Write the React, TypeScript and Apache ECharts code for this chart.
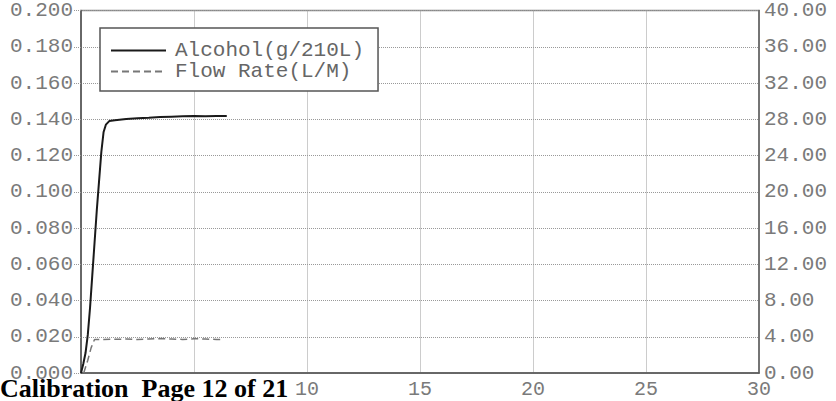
import React, { useEffect, useRef } from "react";
import * as echarts from "echarts";

const alcoholX = [0, 0.1, 0.2, 0.3, 0.4, 0.5, 0.6, 0.7, 0.8, 0.9, 1.0, 1.1, 1.25, 1.5, 2.0, 2.5, 3.0, 3.5, 4.0, 4.5, 5.0, 5.5, 6.0, 6.45];
const alcoholY = [0, 0.005, 0.011, 0.021, 0.036, 0.054, 0.072, 0.09, 0.106, 0.122, 0.133, 0.137, 0.139, 0.1395, 0.1402, 0.1405, 0.1408, 0.1412, 0.1414, 0.1416, 0.1418, 0.1416, 0.1418, 0.1418];
const flowX = [0.12, 0.3, 0.45, 0.6, 1.0, 1.5, 2.0, 2.5, 3.0, 3.5, 4.0, 4.5, 5.0, 5.5, 6.0, 6.2];
const flowY = [0, 1.4, 2.8, 3.7, 3.7, 3.72, 3.75, 3.7, 3.75, 3.8, 3.75, 3.7, 3.78, 3.75, 3.7, 3.7];
const seriesNames = ["Alcohol(g/210L)", "Flow Rate(L/M)"];
const footerText = "Calibration  Page 12 of 21";
const hiddenXLabels = [0, 5];

const mono = "Liberation Mono";

export default function App() {
  const ref = useRef<HTMLDivElement>(null);
  useEffect(() => {
    if (!ref.current) return;
    const chart = echarts.init(ref.current, null, { renderer: "svg" });
    chart.setOption({
      animation: false,
      backgroundColor: "#ffffff",
      grid: {
        left: 81,
        right: 77,
        top: 9,
        bottom: 28,
        show: true,
        borderColor: "#888",
        borderWidth: 1.5,
      },
      legend: {
        orient: "vertical",
        left: 100,
        top: 28,
        padding: [12, 14, 9, 10],
        itemGap: 0,
        itemWidth: 55,
        itemHeight: 20,
        backgroundColor: "#fff",
        borderColor: "#555",
        borderWidth: 1.5,
        borderRadius: 0,
        itemStyle: { opacity: 0 },
        textStyle: {
          fontFamily: mono,
          fontSize: 21,
          color: "#666",
          padding: [0, 0, 0, 4],
        },
        data: seriesNames,
      },
      xAxis: {
        type: "value",
        min: 0,
        max: 30,
        interval: 5,
        axisLine: { show: true, lineStyle: { color: "#555", width: 1.5 } },
        axisTick: { show: false },
        splitLine: { show: true, lineStyle: { color: "#999", type: "dotted", width: 1 } },
        axisLabel: {
          fontFamily: mono,
          fontSize: 20,
          color: "#7a7a7a",
          margin: 6,
          formatter: (v: number) => (hiddenXLabels.includes(v) ? "" : String(v)),
        },
      },
      yAxis: [
        {
          type: "value",
          min: 0,
          max: 0.2,
          interval: 0.02,
          position: "left",
          axisLine: { show: true, lineStyle: { color: "#555", width: 1.5 } },
          axisTick: { show: true, length: 7, lineStyle: { color: "#999", type: "dotted" } },
          splitLine: { show: true, lineStyle: { color: "#999", type: "dotted", width: 1 } },
          axisLabel: {
            fontFamily: mono,
            fontSize: 21,
            color: "#7a7a7a",
            margin: 8,
            formatter: (v: number) => v.toFixed(3),
          },
        },
        {
          type: "value",
          min: 0,
          max: 40,
          interval: 4,
          position: "right",
          axisLine: { show: true, lineStyle: { color: "#666", width: 1.5 } },
          axisTick: { show: false },
          splitLine: { show: false },
          axisLabel: {
            fontFamily: mono,
            fontSize: 21,
            color: "#7a7a7a",
            margin: 5,
            formatter: (v: number) => v.toFixed(2),
          },
        },
      ],
      series: [
        {
          name: seriesNames[0],
          type: "line",
          yAxisIndex: 0,
          symbol: "none",
          smooth: false,
          lineStyle: { color: "#1a1a1a", width: 2 },
          itemStyle: { color: "#1a1a1a" },
          data: alcoholX.map((x, i) => [x, alcoholY[i]]),
        },
        {
          name: seriesNames[1],
          type: "line",
          yAxisIndex: 1,
          symbol: "none",
          lineStyle: { color: "#777", width: 1.5, type: [7, 4] },
          itemStyle: { color: "#777" },
          data: flowX.map((x, i) => [x, flowY[i]]),
        },
      ],
      graphic: [
        {
          type: "text",
          left: 0,
          bottom: 0,
          z: 100,
          style: {
            text: footerText,
            font: "bold 26px 'Liberation Serif'",
            fill: "#000",
          },
        },
      ],
    });
    return () => chart.dispose();
  }, []);
  return (
    <div
      ref={ref}
      style={{ position: "fixed", left: 0, top: 0, width: 836, height: 401 }}
    />
  );
}
